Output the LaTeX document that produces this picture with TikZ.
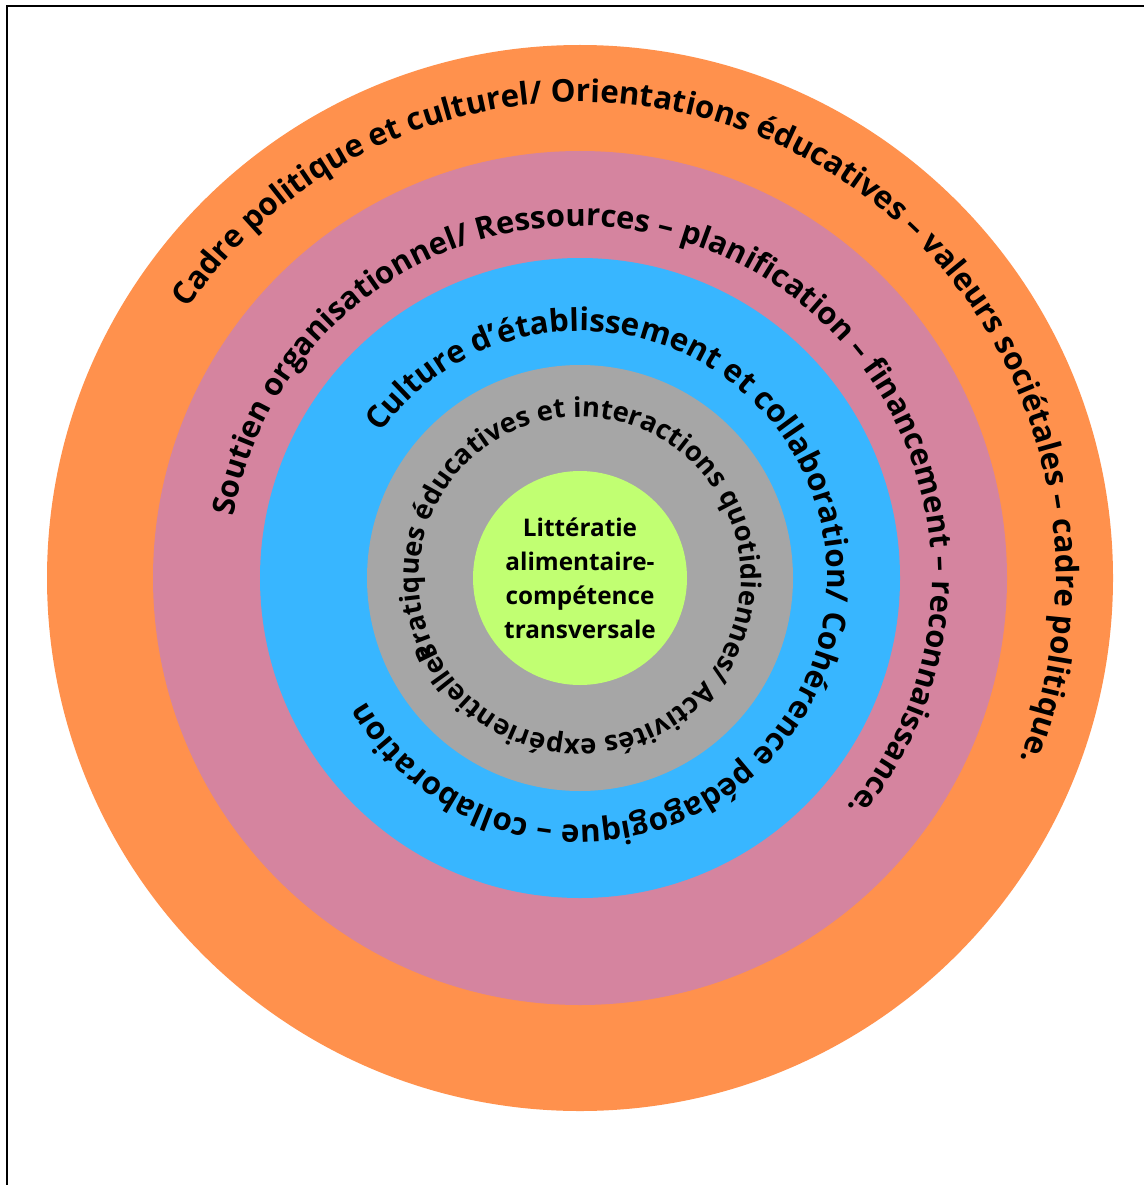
\documentclass[tikz,border=0pt]{standalone}
\usepackage{fontspec}
\setmainfont{Open Sans}
\usetikzlibrary{decorations.text}
\definecolor{ringOrange}{HTML}{FF914D}
\definecolor{ringPink}{HTML}{D5849F}
\definecolor{ringBlue}{HTML}{38B6FF}
\definecolor{ringGray}{HTML}{A6A6A6}
\definecolor{ringGreen}{HTML}{C1FF72}
\tikzset{
  ring/.style={circle, inner sep=0pt, outer sep=0pt, draw=none},
  ringtext/.style={decorate, decoration={text along path, text align=left, text={#1}}}
}
\begin{document}
\begin{tikzpicture}[x=1pt,y=1pt]
\useasboundingbox (0,0) rectangle (1144,-1185);
\fill[white] (0,0) rectangle (1144,-1185);
\draw[line width=2pt] (6.5,-1185) -- (6.5,-6.5) -- (1144,-6.5);
\begin{scope}[shift={(580,-578)}]
  \node[ring, fill=ringOrange, minimum size=1066pt] (outer) at (0,0) {};
  \node[ring, fill=ringPink, minimum size=854pt] (org) at (0,0) {};
  \node[ring, fill=ringBlue, minimum size=640pt] (cult) at (0,0) {};
  \node[ring, fill=ringGray, minimum size=426pt] (prat) at (0,0) {};
  \node[ring, fill=ringGreen, minimum size=214pt, align=center,
        font=\bfseries\fontsize{24.3pt}{34pt}\selectfont] (core) at (0,0)
        {Littératie\\alimentaire-\\compétence\\transversale};
  % orange ring text
  \path[ringtext={|\bfseries\fontsize{31.3pt}{33pt}\selectfont|Cadre politique et culturel/ Orientations éducatives – valeurs sociétales – cadre politique.}]
    (145.5:476pt) arc[start angle=145.5, end angle=-40, radius=476pt];
  % pink ring text
  \path[ringtext={|\bfseries\fontsize{30.8pt}{33pt}\selectfont|Soutien organisationnel/ Ressources – planification – financement – reconnaissance.}]
    (170:352pt) arc[start angle=170, end angle=-60, radius=352pt];
  % blue ring text
  \path[ringtext={|\bfseries\fontsize{31.3pt}{33pt}\selectfont|Culture d’établissement et collaboration/ Cohérence pédagogique – collaboration}]
    (144:247pt) arc[start angle=144, end angle=-170, radius=247pt];
  % gray ring text
  \path[ringtext={|\bfseries\fontsize{27.3pt}{29pt}\selectfont|Pratiques éducatives et interactions quotidiennes/ Activités expérientielles}]
    (209:161pt) arc[start angle=209, end angle=-175, radius=161pt];
\end{scope}
\end{tikzpicture}
\end{document}
